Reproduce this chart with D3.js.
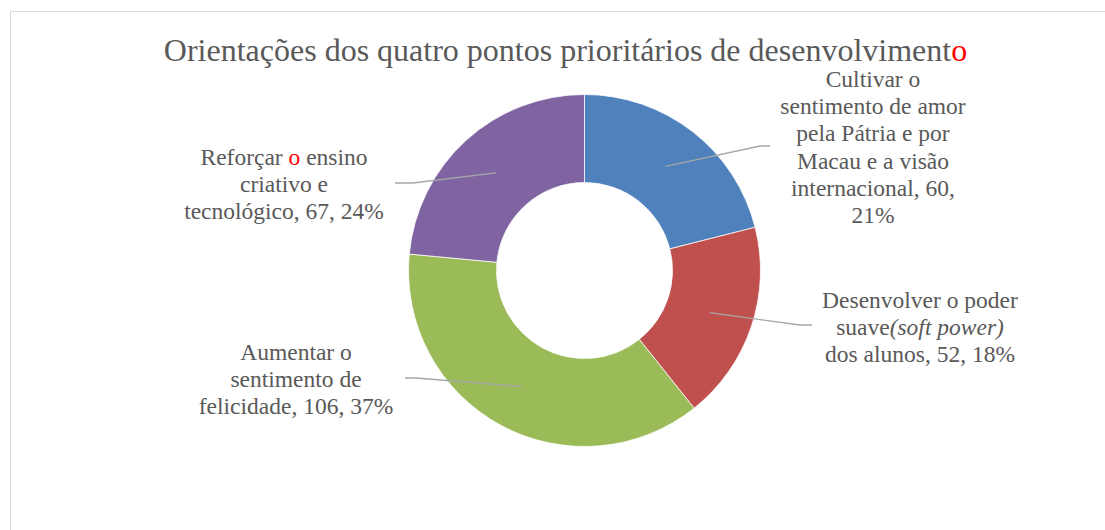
<!DOCTYPE html>
<html>
<head>
<meta charset="utf-8">
<script src="https://cdn.jsdelivr.net/npm/d3@7.9.0/dist/d3.min.js"></script>
<style>
  body { margin: 0; background: #fff; }
  svg { display: block; }
  text, tspan { font-family: "Liberation Serif", "Times New Roman", serif; }
</style>
</head>
<body>
<svg id="chart" width="1105" height="530"></svg>
<script>
// data
let categories = [
  "Cultivar o sentimento de amor pela Pátria e por Macau e a visão internacional",
  "Desenvolver o poder suave(soft power) dos alunos",
  "Aumentar o sentimento de felicidade",
  "Reforçar o ensino criativo e tecnológico"
];
let values = [60, 52, 106, 67];
let percents = ["21%", "18%", "37%", "24%"];
let colors = ["#4F81BD", "#C0504D", "#9BBB59", "#8064A2"];

// label lines as they wrap in the picture (segments: [text, italic, red])
let labelLines = [
  [[["Cultivar o"]], [["sentimento de amor"]], [["pela Pátria e por"]], [["Macau e a visão"]], [["internacional, 60,"]], [["21%"]]],
  [[["Desenvolver o poder"]], [["suave"], ["(soft power)", true]], [["dos alunos, 52, 18%"]]],
  [[["Aumentar o"]], [["sentimento de"]], [["felicidade, 106, 37%"]]],
  [[["Reforçar "], ["o", false, true], [" ensino"]], [["criativo e"]], [["tecnológico, 67, 24%"]]]
];

// layout
let cx = 584.5, cy = 270.5;
let labelPos = [
  { x: 873, y: 87, elbow: [760, 146], end: [770, 146] },
  { x: 920, y: 308, elbow: [800, 325], end: [812, 325] },
  { x: 296, y: 360, elbow: [416, 378], end: [405, 378] },
  { x: 284, y: 165, elbow: [413, 183], end: [395, 183] }
];
let lineH = 27.2;
let serif = '"Liberation Serif", "Times New Roman", serif';

let svg = d3.select('#chart');

// chart border
svg.append('path')
  .attr('d', 'M10.5,540 V11.5 H1120')
  .attr('fill', 'none')
  .attr('stroke', '#D9D9D9')
  .attr('stroke-width', 1);

// title
let title = svg.append('text')
  .attr('x', 565.5)
  .attr('y', 61)
  .attr('text-anchor', 'middle')
  .attr('font-family', serif)
  .attr('font-size', 32)
  .attr('fill', '#595959');
title.append('tspan').text('Orientações dos quatro pontos prioritários de desenvolviment');
title.append('tspan').attr('fill', '#FF0000').text('o');

let pie = d3.pie().sort(null).value(d => d);
let arcData = pie(values);

let arc = d3.arc().innerRadius(88).outerRadius(176);

let g = svg.append('g').attr('transform', `translate(${cx},${cy})`);
g.selectAll('path')
  .data(arcData)
  .join('path')
  .attr('d', arc)
  .attr('fill', (d, i) => colors[i])
  .attr('stroke', '#fff')
  .attr('stroke-width', 0.75);

// leader lines
svg.append('g')
  .selectAll('polyline')
  .data(arcData)
  .join('polyline')
  .attr('points', (d, i) => {
    let c = arc.centroid(d);
    let p = labelPos[i];
    return [[cx + c[0], cy + c[1]], p.elbow, p.end].map(q => q.join(',')).join(' ');
  })
  .attr('fill', 'none')
  .attr('stroke', '#A6A6A6')
  .attr('stroke-width', 1.3);

// labels
let labels = svg.append('g')
  .selectAll('text')
  .data(labelLines)
  .join('text')
  .attr('text-anchor', 'middle')
  .attr('font-family', serif)
  .attr('font-size', 23.5)
  .attr('fill', '#595959');

labels.each(function(lines, i) {
  let t = d3.select(this);
  let p = labelPos[i];
  lines.forEach((segs, j) => {
    segs.forEach((s, k) => {
      let ts = t.append('tspan').text(s[0]);
      if (k === 0) ts.attr('x', p.x).attr('y', p.y + j * lineH);
      if (s[1]) ts.attr('font-style', 'italic');
      if (s[2]) ts.attr('fill', '#FF0000');
    });
  });
});
</script>
</body>
</html>
